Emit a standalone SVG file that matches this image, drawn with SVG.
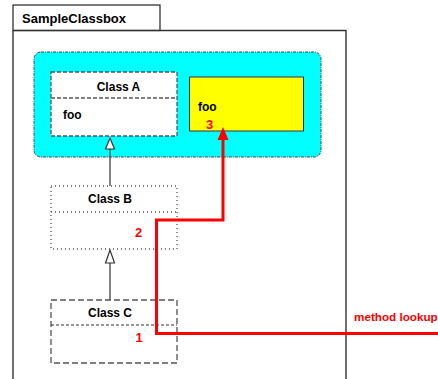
<svg xmlns="http://www.w3.org/2000/svg" width="438" height="379" viewBox="0 0 438 379">
<style>
text{font-family:"Liberation Sans",Arial,sans-serif;font-weight:bold}
.lbl{font-size:12px;fill:#000}
.num{font-size:13px;fill:#ff0000}
.cls{fill:#fff;stroke:#555;stroke-width:1.3}
.inh{stroke:#333;stroke-width:1.2;fill:none}
.tri{fill:#fff;stroke:#333;stroke-width:1.2}
</style>
<g id="classbox">
<rect x="13" y="5" width="147" height="25.5" fill="#fff" stroke="#222" stroke-width="1.2"/>
<path d="M13,30.5 V380 M13,30.5 H346 V380" fill="none" stroke="#333" stroke-width="1.4"/>
<text x="22" y="22.5" style="font-size:13px">SampleClassbox</text>
</g>
<g id="refinement">
<rect x="34" y="52" width="287" height="105" rx="7" fill="#00ffff" stroke="#444" stroke-width="1" stroke-dasharray="3,1,1,1"/>
</g>
<g id="classA">
<rect class="cls" x="51" y="72" width="126" height="64" stroke-dasharray="4,2"/>
<line x1="51" y1="98" x2="177" y2="98" stroke="#555" stroke-width="1.3" stroke-dasharray="4,2"/>
<text class="lbl" x="118.5" y="90.5" text-anchor="middle">Class A</text>
<text class="lbl" x="63" y="119">foo</text>
</g>
<g id="refinedFoo">
<rect x="189.5" y="77" width="114" height="54" fill="#ffff00" stroke="#335" stroke-width="1"/>
<text class="lbl" x="198" y="111">foo</text>
<text class="num" x="206" y="128.5">3</text>
</g>
<g id="classB">
<rect class="cls" x="51" y="186" width="126" height="63" stroke-dasharray="1,3"/>
<line x1="51" y1="212" x2="177" y2="212" stroke="#555" stroke-width="1.3" stroke-dasharray="1,3"/>
<text class="lbl" x="110" y="202.5" text-anchor="middle">Class B</text>
<text class="num" x="135" y="236.5">2</text>
</g>
<g id="classC">
<rect class="cls" x="51" y="300" width="126" height="63" stroke-dasharray="6,3"/>
<line x1="51" y1="325" x2="177" y2="325" stroke="#333" stroke-width="1.2" stroke-dasharray="3,2"/>
<text class="lbl" x="110" y="317" text-anchor="middle">Class C</text>
<text class="num" x="135.5" y="342">1</text>
</g>
<g id="connectors">
<line class="inh" x1="110" y1="186" x2="110" y2="149"/>
<polygon class="tri" points="105.5,149 114.5,149 110,138"/>
<line class="inh" x1="110" y1="300" x2="110" y2="263"/>
<polygon class="tri" points="105.5,263 114.5,263 110,250"/>
<path d="M440,333.5 H156.5 V220 H223 V138" fill="none" stroke="#ff0000" stroke-width="3"/>
<polygon points="217.5,140 228.5,140 223,127" fill="#ff0000"/>
<text x="354" y="321" style="font-size:11.7px;fill:#ff0000">method lookup</text>
</g>
</svg>
